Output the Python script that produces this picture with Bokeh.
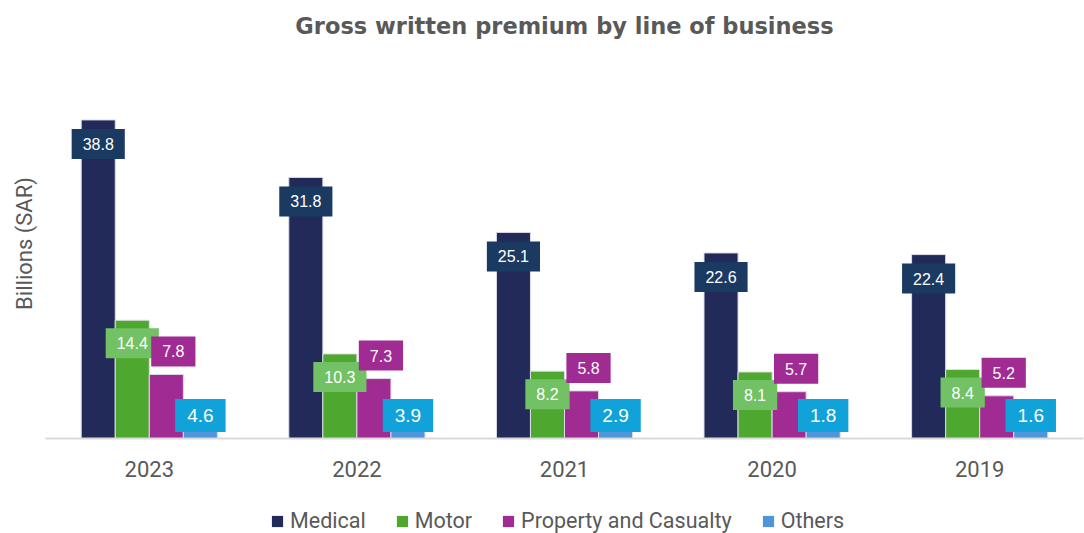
from bokeh.plotting import figure
from bokeh.models import ColumnDataSource, Legend, LegendItem, FixedTicker
from bokeh.layouts import column
from bokeh.transform import dodge
from bokeh.core.properties import value
from bokeh.embed import file_html
from bokeh.resources import INLINE

years = ["2023", "2022", "2021", "2020", "2019"]
medical = [38.8, 31.8, 25.1, 22.6, 22.4]
motor = [14.4, 10.3, 8.2, 8.1, 8.4]
property_casualty = [7.8, 7.3, 5.8, 5.7, 5.2]
others = [4.6, 3.9, 2.9, 1.8, 1.6]
series_names = ["Medical", "Motor", "Property and Casualty", "Others"]

src = ColumnDataSource(dict(
    year=years, medical=medical, motor=motor, pc=property_casualty, others=others,
    zero=[0] * len(years),
    medical_t=[f"{v:.1f}" for v in medical],
    motor_t=[f"{v:.1f}" for v in motor],
    pc_t=[f"{v:.1f}" for v in property_casualty],
    others_t=[f"{v:.1f}" for v in others],
))

p = figure(width=1084, height=489, x_range=years, y_range=(0, 47.5),
           output_backend="svg", toolbar_location=None,
           min_border_left=45, min_border_right=1, min_border_top=44, min_border_bottom=51)

p.title.text = "Gross written premium by line of business"
p.title.align = "center"
p.title.text_font = "DejaVu Sans"
p.title.text_font_size = "22.5px"
p.title.text_font_style = "bold"
p.title.text_color = "#595959"
p.title.standoff = 20

step = 0.164
offs = [-1.5 * step, -0.5 * step, 0.5 * step, 1.5 * step]
cols = ["medical", "motor", "pc", "others"]
bar_colors = ["#222A59", "#4EA72E", "#A02B93", "#4E95D9"]
lab_colors = ["#1B3A62", "#72C164", "#A02B93", "#10A2D9"]

for c, o, bc in zip(cols, offs, bar_colors):
    p.vbar(x=dodge("year", o, range=p.x_range), top=c, width=step, source=src,
           fill_color=bc, line_color="#DCDCE6", line_width=1)

pad = dict(left=11, right=11, top=9, bottom=9)
pad_o = dict(left=12, right=12, top=10, bottom=10)
# data labels
p.text(x=dodge("year", offs[0], range=p.x_range), y="medical", text="medical_t", source=src,
       y_offset=24, text_align="center", text_baseline="middle", text_color="white",
       text_font=value("Liberation Sans"), text_font_size="16px",
       background_fill_color=lab_colors[0], padding=pad)
p.text(x=dodge("year", offs[1], range=p.x_range), y="motor", text="motor_t", source=src,
       y_offset=23, text_align="center", text_baseline="middle", text_color="white",
       text_font=value("Liberation Sans"), text_font_size="16px",
       background_fill_color=lab_colors[1], padding=pad)
p.text(x=dodge("year", offs[2], range=p.x_range), y="pc", text="pc_t", source=src,
       x_offset=7, y_offset=-23, text_align="center", text_baseline="middle", text_color="white",
       text_font=value("Liberation Sans"), text_font_size="16px",
       background_fill_color=lab_colors[2], padding=pad)
p.text(x=dodge("year", offs[3], range=p.x_range), y="zero", text="others_t", source=src,
       y_offset=-23, text_align="center", text_baseline="middle", text_color="white",
       text_font=value("Liberation Sans"), text_font_size="19px",
       background_fill_color=lab_colors[3], padding=pad_o)

p.xgrid.grid_line_color = None
p.ygrid.grid_line_color = None
p.outline_line_color = None

p.yaxis.ticker = FixedTicker(ticks=[])
p.yaxis.axis_line_color = None
p.yaxis.major_tick_line_color = None
p.yaxis.minor_tick_line_color = None
p.yaxis.major_label_text_font_size = "0px"
p.yaxis.axis_label = "Billions (SAR)"
p.yaxis.axis_label_text_font = "Roboto"
p.yaxis.axis_label_text_font_size = "22px"
p.yaxis.axis_label_text_font_style = "normal"
p.yaxis.axis_label_text_color = "#595959"
p.yaxis.axis_label_standoff = 9

p.xaxis.axis_line_color = "#D9D9D9"
p.xaxis.axis_line_width = 2
p.xaxis.major_tick_line_color = None
p.xaxis.minor_tick_line_color = None
p.xaxis.major_label_text_font = "Roboto"
p.xaxis.major_label_text_font_size = "22px"
p.xaxis.major_label_text_color = "#595959"
p.xaxis.major_label_standoff = 16

# legend strip below the chart (legend renderers sit outside the visible range)
pl = figure(width=1084, height=44, output_backend="svg", toolbar_location=None,
            x_axis_type=None, y_axis_type=None, x_range=(0, 1), y_range=(0, 1),
            min_border=0)
pl.xgrid.grid_line_color = None
pl.ygrid.grid_line_color = None
pl.outline_line_color = None
hidden = ColumnDataSource(dict(x=[-5], top=[-5]))
leg_rs = [pl.vbar(x="x", top="top", bottom=-6, width=0.1, source=hidden,
                  fill_color=bc, line_color=None) for bc in bar_colors]
items = [LegendItem(label=n, renderers=[r]) for n, r in zip(series_names, leg_rs)]
legend = Legend(items=items, orientation="horizontal", location=(225, 0),
                glyph_width=14, glyph_height=14, label_text_font="Roboto",
                label_text_font_size="21.5px", label_text_color="#595959",
                spacing=29, label_standoff=6, padding=0, margin=0,
                background_fill_alpha=0, border_line_color=None)
pl.add_layout(legend, "center")

layout = column(p, pl, spacing=0)
open("out.html", "w").write(file_html(layout, INLINE))
